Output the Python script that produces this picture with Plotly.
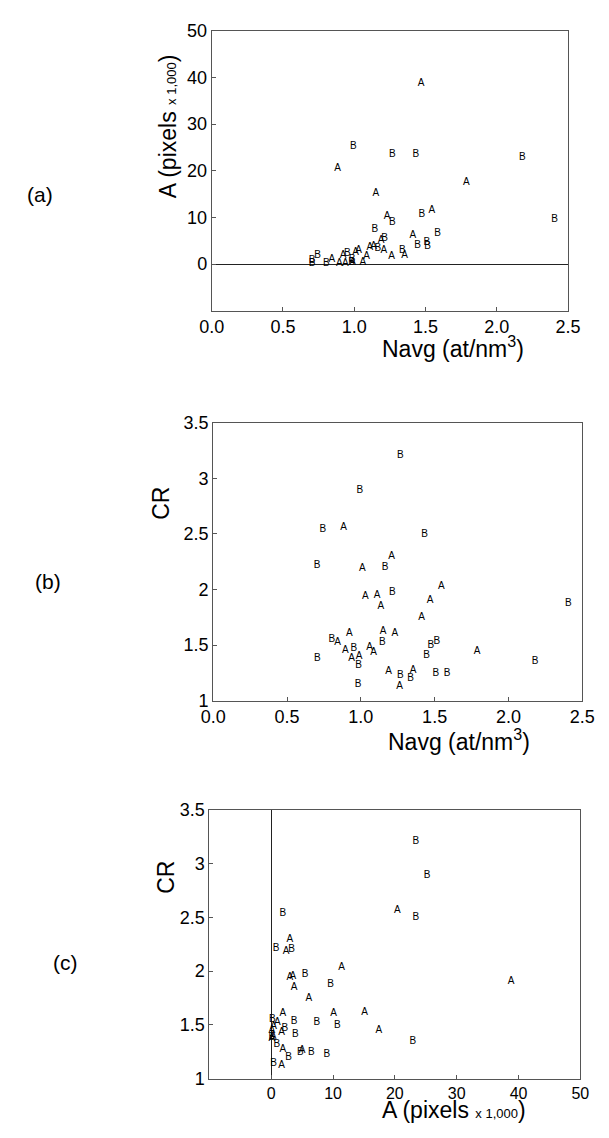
import plotly.graph_objects as go

# page body has an 8px default margin; compensate so the figure lands where the reference is
OX, OY = 8, 8
W, H = 609 - 2 * OX, 1138 - 2 * OY

# ---- data: one entry per sample (group A / group B) ----
navg_A = [0.883, 1.208, 1.010, 1.031, 1.110, 1.136, 1.545, 1.470, 1.411, 0.922, 1.151,
          1.230, 0.843, 1.787, 0.895, 1.060, 1.086, 0.937, 0.989, 1.188, 1.354, 1.263]
area_A = [20.4, 3.0, 2.4, 3.0, 3.5, 3.7, 11.4, 38.8, 6.1, 1.9, 15.1,
          10.1, 1.0, 17.4, 0.1, 0.4, 1.7, 0.1, 0.3, 5.0, 1.9, 1.7]
cr_A = [2.56, 2.295, 2.186, 1.937, 1.946, 1.846, 2.029, 1.903, 1.743, 1.602, 1.618,
        1.602, 1.521, 1.444, 1.447, 1.482, 1.432, 1.376, 1.394, 1.263, 1.275, 1.126]

navg_B = [1.267, 0.993, 0.743, 1.432, 0.704, 1.165, 1.214, 2.406, 0.804, 1.145, 1.475,
          1.515, 0.952, 0.705, 0.985, 1.445, 2.180, 1.268, 1.338, 1.509, 1.585, 0.981]
area_B = [23.4, 25.2, 1.9, 23.4, 0.8, 3.3, 5.5, 9.6, 0.2, 7.4, 10.7,
          3.7, 2.2, 0.1, 0.9, 3.9, 22.9, 9.0, 2.8, 4.7, 6.5, 0.4]
cr_B = [3.205, 2.89, 2.536, 2.498, 2.214, 2.2, 1.972, 1.876, 1.55, 1.52, 1.498,
        1.534, 1.47, 1.382, 1.316, 1.41, 1.348, 1.228, 1.2, 1.24, 1.24, 1.145]

navg_ticks = [0.0, 0.5, 1.0, 1.5, 2.0, 2.5]
area_ticks = [0, 10, 20, 30, 40, 50]
cr_ticks = [1, 1.5, 2, 2.5, 3, 3.5]

FONT = "Liberation Sans, Arial, sans-serif"
MK = dict(family=FONT, size=10, color="black")

fig = go.Figure()

def add_pair(xa, ya, xb, yb, xref, yref):
    fig.add_trace(go.Scatter(x=xa, y=ya, mode="text", text=["A"] * len(xa),
                             textfont=MK, xaxis=xref, yaxis=yref, showlegend=False,
                             hoverinfo="skip"))
    fig.add_trace(go.Scatter(x=xb, y=yb, mode="text", text=["B"] * len(xb),
                             textfont=MK, xaxis=xref, yaxis=yref, showlegend=False,
                             hoverinfo="skip"))

add_pair(navg_A, area_A, navg_B, area_B, "x", "y")
add_pair(navg_A, cr_A, navg_B, cr_B, "x2", "y2")
add_pair(area_A, cr_A, area_B, cr_B, "x3", "y3")

def px_x(a, b):
    return [(a - OX) / W, (b - OX) / W]

def px_y(top, bottom):
    return [(H - (bottom - OY)) / H, (H - (top - OY)) / H]

TICKF = dict(family=FONT, size=18, color="black")
common = dict(showline=True, mirror=True, linecolor="#555", linewidth=1,
              ticks="inside", ticklen=4, tickcolor="#555", showgrid=False,
              tickfont=TICKF, zeroline=False)

fig.update_layout(
    width=W, height=H, margin=dict(l=0, r=0, t=0, b=0),
    paper_bgcolor="white", plot_bgcolor="white", showlegend=False,
    xaxis=dict(domain=px_x(207.5, 580), range=[0, 2.5], tickvals=navg_ticks,
               tickformat=".1f", anchor="y", **common),
    yaxis=dict(domain=px_y(21, 306), range=[-10, 50], tickvals=area_ticks, anchor="x",
               **{**common, "zeroline": True}, zerolinecolor="#222", zerolinewidth=1),
    xaxis2=dict(domain=px_x(209, 595), range=[0, 2.5], tickvals=navg_ticks,
                tickformat=".1f", anchor="y2", **common),
    yaxis2=dict(domain=px_y(420, 703), range=[1, 3.5], tickvals=cr_ticks, anchor="x2",
                **common),
    xaxis3=dict(domain=px_x(205, 593), range=[-10, 50], tickvals=area_ticks, anchor="y3",
                **{**common, "zeroline": True, "tickfont": dict(family=FONT, size=16, color="black")},
                zerolinecolor="#222", zerolinewidth=1),
    yaxis3=dict(domain=px_y(814, 1088), range=[1, 3.5], tickvals=cr_ticks, anchor="x3",
                **common),
)

def ann(text, x, y, size, angle=0):
    fig.add_annotation(text=text, x=(x - OX) / W, y=(H - (y - OY)) / H,
                       xref="paper", yref="paper",
                       showarrow=False, textangle=angle, xanchor="center", yanchor="middle",
                       font=dict(family=FONT, size=size, color="black"))

area_title = "A (pixels <span style='font-size:13px'>x 1,000</span>)"
nav_title = "Navg (at/nm<sup>3</sup>)"

# panel labels
ann("(a)", 28, 188, 21)
ann("(b)", 36, 582, 21)
ann("(c)", 55, 970, 21)

# axis titles
ann(area_title, 162, 118, 23, -90)
ann(nav_title, 460, 343, 23)
ann("CR", 155, 502, 23, -90)
ann(nav_title, 466, 743, 23)
ann("CR", 160, 883, 23, -90)
ann(area_title, 461, 1120, 23)

fig.write_html("out.html")
